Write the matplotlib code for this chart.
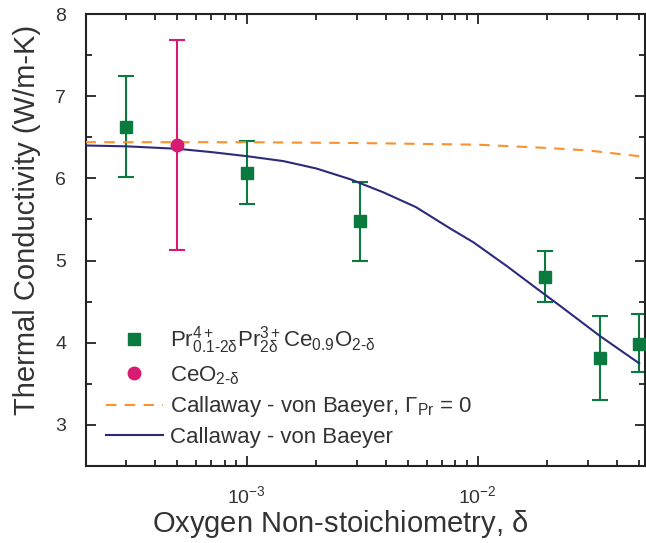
import numpy as np
import matplotlib
matplotlib.use("Agg")
import matplotlib.pyplot as plt
from matplotlib.ticker import LogLocator, MultipleLocator, NullFormatter

plt.rcParams['font.family'] = ['Liberation Sans', 'DejaVu Sans']
plt.rcParams['mathtext.fontset'] = 'custom'
plt.rcParams['mathtext.rm'] = 'Liberation Sans'
plt.rcParams['mathtext.it'] = 'Liberation Sans'
plt.rcParams['mathtext.bf'] = 'Liberation Sans'

# measured data, Pr-doped ceria
pr_delta = [3.0e-4, 1.0e-3, 3.1e-3, 1.95e-2, 3.4e-2, 5.0e-2]
pr_k = [6.63, 6.07, 5.48, 4.80, 3.81, 3.99]
pr_err_lo = [0.61, 0.38, 0.48, 0.31, 0.51, 0.35]
pr_err_hi = [0.61, 0.38, 0.48, 0.32, 0.52, 0.36]

# undoped ceria
ceo_delta = [5.0e-4]
ceo_k = [6.41]
ceo_err_lo = [1.28]
ceo_err_hi = [1.27]

# model curves
cvb_delta = [2.0e-4, 3.0e-4, 5.0e-4, 7.0e-4, 1.0e-3, 1.44e-3, 2.0e-3, 2.8e-3, 3.9e-3,
             5.4e-3, 7.6e-3, 9.6e-3, 1.34e-2, 1.86e-2, 2.27e-2, 3.39e-2, 5.0e-2]
cvb_k = [6.40, 6.39, 6.36, 6.32, 6.27, 6.21, 6.12, 5.99, 5.83,
         5.65, 5.39, 5.22, 4.93, 4.63, 4.45, 4.08, 3.75]
cvb0_delta = [2e-4, 1e-3, 3e-3, 1e-2, 2e-2, 3e-2, 4e-2, 5e-2]
cvb0_k = [6.44, 6.44, 6.43, 6.41, 6.37, 6.34, 6.30, 6.27]

green = '#0b7a3e'
magenta = '#d81b72'
orange = '#f7922e'
navy = '#2b2b7c'
grey = '#333333'

fig = plt.figure(figsize=(6.46, 5.43), dpi=100)
ax = fig.add_axes([0.1324, 0.1418, 0.866, 0.8324])

ax.errorbar(pr_delta, pr_k, yerr=[pr_err_lo, pr_err_hi], fmt='none', ecolor=green,
            elinewidth=1.5, capsize=5.5, capthick=1.5, zorder=2)
ax.errorbar(ceo_delta, ceo_k, yerr=[ceo_err_lo, ceo_err_hi], fmt='none', ecolor=magenta,
            elinewidth=1.5, capsize=5.5, capthick=1.5, zorder=2)
ax.plot(cvb0_delta, cvb0_k, '--', color=orange, lw=1.5, dashes=(5, 4), zorder=3,
        label=r'Callaway - von Baeyer, $\Gamma_{\mathrm{Pr}}$ = 0')
ax.plot(cvb_delta, cvb_k, '-', color=navy, lw=1.5, zorder=3,
        label='Callaway - von Baeyer')
ax.plot(pr_delta, pr_k, 's', color=green, ms=8, ls='none', zorder=4,
        label=r'Pr$^{4+}_{\mathrm{0.1}\text{-}\mathrm{2}\delta}$Pr$^{3+}_{2\delta}$Ce$_{\mathrm{0.9}}$O$_{\mathrm{2}\text{-}\delta}$')
ax.plot(ceo_delta, ceo_k, 'o', color=magenta, ms=9, ls='none', zorder=4,
        label=r'CeO$_{\mathrm{2}\text{-}\delta}$')

ax.set_xscale('log')
ax.set_xlim(2e-4, 0.053)
ax.set_ylim(2.5, 8)
ax.yaxis.set_major_locator(MultipleLocator(1))
ax.yaxis.set_minor_locator(MultipleLocator(0.5))
ax.xaxis.set_minor_locator(LogLocator(base=10, subs=np.arange(2, 10), numticks=20))
ax.xaxis.set_minor_formatter(NullFormatter())

ax.tick_params(which='both', direction='in', top=True, right=True, colors='#222222',
               labelcolor=grey, labelsize=14, width=1.3)
ax.tick_params(which='major', length=7)
ax.tick_params(axis='y', which='major', pad=14)
ax.tick_params(axis='x', which='major', pad=14)
ax.tick_params(which='minor', length=4)
for s in ax.spines.values():
    s.set_linewidth(1.5)
    s.set_color('#222222')

ax.set_xlabel(r'Oxygen Non-stoichiometry, $\delta$', fontsize=21, color=grey)
ax.set_ylabel('Thermal Conductivity (W/m-K)', fontsize=21, color=grey)
ax.xaxis.set_label_coords(0.455, -0.094)
ax.yaxis.set_label_coords(-0.08, 0.545)

h, l = ax.get_legend_handles_labels()
order = [2, 3, 0, 1]
leg = ax.legend([h[i] for i in order], [l[i] for i in order], loc='lower left',
                bbox_to_anchor=(0.0, -0.005), frameon=False, fontsize=16,
                handlelength=2.6, handletextpad=0.3, labelspacing=0.35, labelcolor=grey)

fig.savefig('out.png', dpi=100)
